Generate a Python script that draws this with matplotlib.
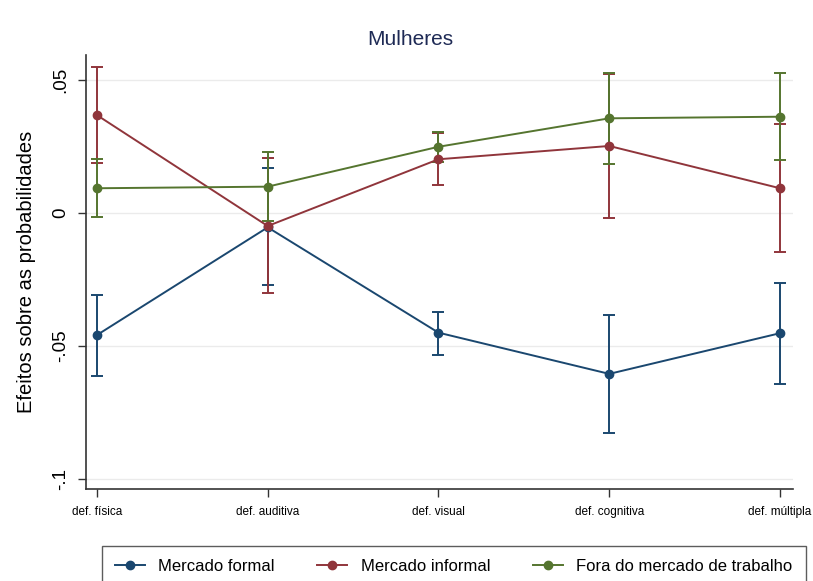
import matplotlib
matplotlib.use("Agg")
import matplotlib.pyplot as plt
import numpy as np

categories = ["def. física", "def. auditiva", "def. visual", "def. cognitiva", "def. múltipla"]

formal = [-0.0460, -0.0055, -0.0451, -0.0606, -0.0453]
formal_lo = [-0.0613, -0.0272, -0.0535, -0.0827, -0.0644]
formal_hi = [-0.0309, 0.0167, -0.0374, -0.0385, -0.0265]

informal = [0.0367, -0.0050, 0.0201, 0.0251, 0.0092]
informal_lo = [0.0186, -0.0303, 0.0105, -0.0021, -0.0149]
informal_hi = [0.0549, 0.0204, 0.0300, 0.0522, 0.0333]

fora = [0.0092, 0.0098, 0.0248, 0.0355, 0.0361]
fora_lo = [-0.0017, -0.0030, 0.0190, 0.0182, 0.0198]
fora_hi = [0.0202, 0.0229, 0.0302, 0.0524, 0.0524]

series_names = ["Mercado formal", "Mercado informal", "Fora do mercado de trabalho"]
colors = ["#1a476f", "#90353b", "#55752f"]

y_ticks = [0.05, 0.0, -0.05, -0.1]
y_tick_labels = [".05", "0", "-.05", "-.1"]

FAM = ["Liberation Sans", "DejaVu Sans"]

fig = plt.figure(figsize=(8.13, 5.81), dpi=100)
ax = fig.add_axes([0.1058, 0.1583, 0.8696, 0.7470])

x = np.arange(len(categories))
handles = []
for vals, lo, hi, c, name in [(formal, formal_lo, formal_hi, colors[0], series_names[0]),
                              (informal, informal_lo, informal_hi, colors[1], series_names[1]),
                              (fora, fora_lo, fora_hi, colors[2], series_names[2])]:
    vals = np.array(vals); lo = np.array(lo); hi = np.array(hi)
    ax.errorbar(x, vals, yerr=[vals - lo, hi - vals], fmt="none", ecolor=c,
                elinewidth=1.4, capsize=4, capthick=1.4, zorder=2)
    h, = ax.plot(x, vals, color=c, lw=1.4, marker="o", markersize=6, zorder=3, label=name)
    handles.append(h)

ax.set_xlim(-0.064, 4.076)
ax.set_ylim(-0.1039, 0.0593)
ax.set_xticks(x)
ax.set_xticklabels(categories, fontsize=8.5, family=["Liberation Sans Narrow"] + FAM)
ax.set_yticks(y_ticks)
ax.set_yticklabels(y_tick_labels, rotation=90, va="center", fontsize=13.5, family=FAM)
ax.tick_params(axis="y", length=6, width=1, pad=6, color="#333333")
ax.tick_params(axis="x", length=6, width=1, pad=6, color="#333333")
ax.grid(axis="y", color="#ebebeb", lw=1)
ax.set_axisbelow(True)
for s in ["top", "right"]:
    ax.spines[s].set_visible(False)
for s in ["left", "bottom"]:
    ax.spines[s].set_color("#333333")
    ax.spines[s].set_linewidth(1.2)

ax.set_ylabel("Efeitos sobre as probabilidades", fontsize=14.5, family=FAM, labelpad=12)
fig.text(0.505, 0.932, "Mulheres", ha="center", va="center", fontsize=15,
         color="#1e2a55", family=FAM)

leg = fig.legend(handles=handles, labels=series_names, ncol=3, loc="upper left",
                 bbox_to_anchor=(0.125, -0.2, 0.866, 0.2603), mode="expand",
                 borderaxespad=0, frameon=True, fancybox=False,
                 edgecolor="#333333", handlelength=1.8, columnspacing=2.6,
                 borderpad=0.8, prop={"family": FAM, "size": 12})
leg.get_frame().set_linewidth(1.0)

fig.savefig("out.png", dpi=100)
